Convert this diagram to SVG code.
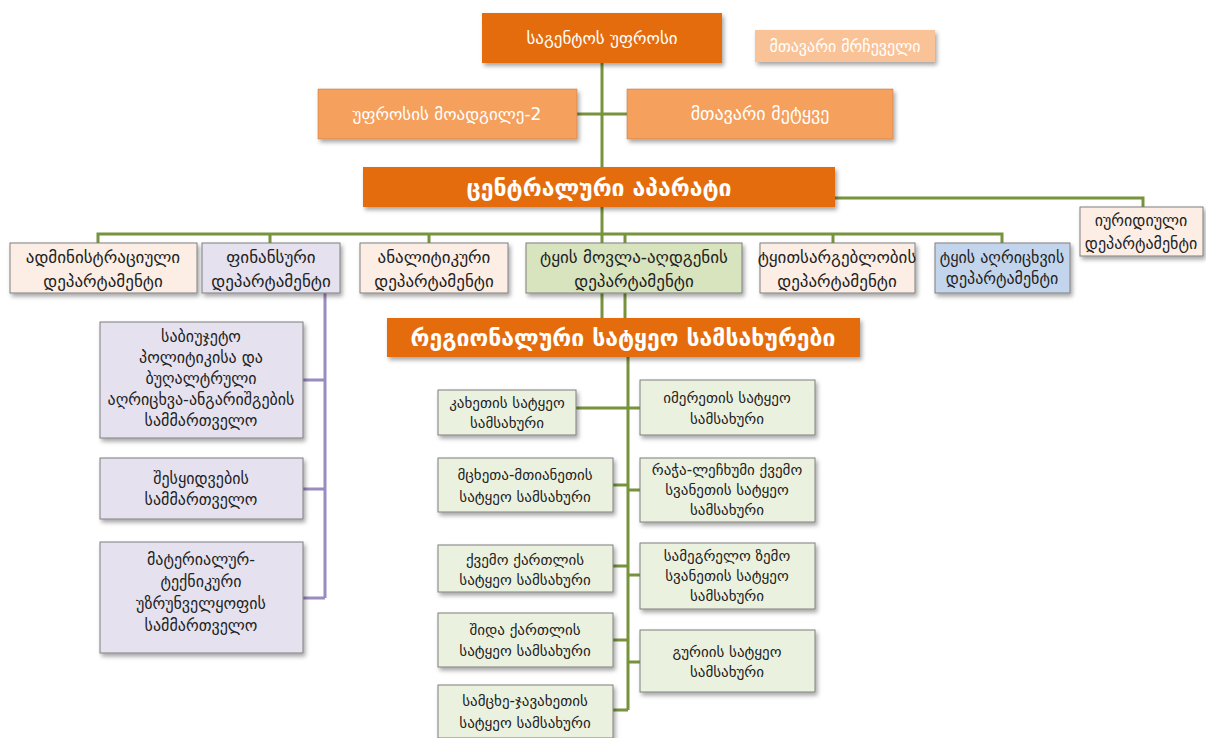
<svg xmlns="http://www.w3.org/2000/svg" width="1206" height="738" viewBox="0 0 1206 738">
<defs>
<filter id="sh" x="-10%" y="-10%" width="130%" height="140%">
<feDropShadow dx="2" dy="3" stdDeviation="2" flood-color="#000" flood-opacity="0.35"/>
</filter>
<style>
.t{font-family:"DejaVu Sans","Noto Sans",sans-serif;text-anchor:middle;}
.w{fill:#fff;}
.k{fill:#222;font-size:15px;}
.d{font-size:17px;}
.p{font-size:16px;}
.dark{fill:#E46C0A;filter:url(#sh);}
.mid{fill:#F5A05C;stroke:#C07040;stroke-width:0.5;filter:url(#sh);}
.light{fill:#FAC397;filter:url(#sh);}
.peach{fill:#FDEEE5;stroke:#7F7F7F;stroke-width:1;filter:url(#sh);}
.lav{fill:#E5E1EE;stroke:#7F7F7F;stroke-width:1;filter:url(#sh);}
.grn{fill:#D8E4BE;stroke:#7F7F7F;stroke-width:1;filter:url(#sh);}
.blu{fill:#C3D5EC;stroke:#7F7F7F;stroke-width:1;filter:url(#sh);}
.lg{fill:#EBF1DF;stroke:#7F7F7F;stroke-width:1;filter:url(#sh);}
.gl{fill:none;stroke:#77933C;stroke-width:3;}
.pl{fill:none;stroke:#9A8CC0;stroke-width:3;}
</style>
</defs>
<rect width="1206" height="738" fill="#fff"/>
<g id="connectors">
<path class="gl" d="M602 62V318"/>
<path class="gl" d="M577 114H627"/>
<path class="gl" d="M98 243V234H1002V243"/>
<path class="gl" d="M270 234V243M429 234V243M625 234V243M833 234V243"/>
<path class="gl" d="M835 198H1143V207"/>
<path class="gl" d="M625 293V318"/>
<path class="gl" d="M628 357V710"/>
<path class="gl" d="M576 408H640"/>
<path class="gl" d="M613 485H628M628 490H640M613 566H628M628 575H640M613 640H628M628 662H640M613 710H628"/>
<path class="pl" d="M325 293V598M303 380H325M303 489H325M303 598H325"/>
</g>
<g id="n_chief"><rect class="dark" x="482" y="13" width="240" height="50"/><text class="t w" x="602" y="44" font-size="17">საგენტოს უფროსი</text></g>
<g id="n_advisor"><rect class="light" x="755" y="30" width="180" height="32"/><text class="t w" x="845" y="52" font-size="16">მთავარი მრჩეველი</text></g>
<g id="n_deputy"><rect class="mid" x="318" y="89" width="259" height="50"/><text class="t w" x="447" y="120" font-size="17">უფროსის მოადგილე-2</text></g>
<g id="n_forester"><rect class="mid" x="627" y="89" width="266" height="50"/><text class="t w" x="760" y="120" font-size="18">მთავარი მეტყვე</text></g>
<g id="n_central"><rect class="dark" x="363" y="167" width="472" height="40"/><text class="t w" x="599" y="196" font-size="23" font-weight="bold">ცენტრალური აპარატი</text></g>
<g id="n_admin"><rect class="peach" x="10" y="243" width="187" height="50"/><text class="t k d" x="103" y="263">ადმინისტრაციული</text><text class="t k d" x="103" y="287">დეპარტამენტი</text></g>
<g id="n_fin"><rect class="lav" x="202" y="243" width="138" height="50"/><text class="t k d" x="271" y="263">ფინანსური</text><text class="t k d" x="271" y="287">დეპარტამენტი</text></g>
<g id="n_anal"><rect class="peach" x="360" y="243" width="148" height="50"/><text class="t k d" x="434" y="263">ანალიტიკური</text><text class="t k d" x="434" y="287">დეპარტამენტი</text></g>
<g id="n_care"><rect class="grn" x="526" y="243" width="216" height="50"/><text class="t k d" x="634" y="263">ტყის მოვლა-აღდგენის</text><text class="t k d" x="634" y="287">დეპარტამენტი</text></g>
<g id="n_use"><rect class="peach" x="760" y="243" width="155" height="50"/><text class="t k d" x="837" y="263">ტყითსარგებლობის</text><text class="t k d" x="837" y="287">დეპარტამენტი</text></g>
<g id="n_count"><rect class="blu" x="935" y="243" width="135" height="50"/><text class="t k p" x="1002" y="263">ტყის აღრიცხვის</text><text class="t k p" x="1002" y="284">დეპარტამენტი</text></g>
<g id="n_legal"><rect class="peach" x="1080" y="207" width="123" height="49"/><text class="t k p" x="1141" y="226">იურიდიული</text><text class="t k p" x="1141" y="249">დეპარტამენტი</text></g>
<g id="n_budget"><rect class="lav" x="100" y="322" width="203" height="116"/><text class="t k p" x="201" y="342">საბიუჯეტო</text><text class="t k p" x="201" y="363">პოლიტიკისა და</text><text class="t k p" x="201" y="384">ბუღალტრული</text><text class="t k p" x="201" y="405">აღრიცხვა-ანგარიშგების</text><text class="t k p" x="201" y="426">სამმართველო</text></g>
<g id="n_purch"><rect class="lav" x="100" y="458" width="203" height="61"/><text class="t k p" x="201" y="484">შესყიდვების</text><text class="t k p" x="201" y="505">სამმართველო</text></g>
<g id="n_mat"><rect class="lav" x="100" y="542" width="203" height="111"/><text class="t k p" x="201" y="565">მატერიალურ-</text><text class="t k p" x="201" y="587">ტექნიკური</text><text class="t k p" x="201" y="609">უზრუნველყოფის</text><text class="t k p" x="201" y="631">სამმართველო</text></g>
<g id="n_regional"><rect class="dark" x="387" y="318" width="473" height="39"/><text class="t w" x="623" y="346" font-size="23" font-weight="bold">რეგიონალური სატყეო სამსახურები</text></g>
<g id="n_kakheti"><rect class="lg" x="438" y="390" width="138" height="45"/><text class="t k" x="507" y="408">კახეთის სატყეო</text><text class="t k" x="507" y="428">სამსახური</text></g>
<g id="n_imereti"><rect class="lg" x="640" y="380" width="175" height="55"/><text class="t k" x="727" y="403">იმერეთის სატყეო</text><text class="t k" x="727" y="424">სამსახური</text></g>
<g id="n_mtskheta"><rect class="lg" x="438" y="458" width="175" height="54"/><text class="t k" x="525" y="480">მცხეთა-მთიანეთის</text><text class="t k" x="525" y="502">სატყეო სამსახური</text></g>
<g id="n_racha"><rect class="lg" x="640" y="458" width="175" height="64"/><text class="t k" x="727" y="475">რაჭა-ლეჩხუმი ქვემო</text><text class="t k" x="727" y="495">სვანეთის სატყეო</text><text class="t k" x="727" y="515">სამსახური</text></g>
<g id="n_kvemo"><rect class="lg" x="438" y="545" width="175" height="47"/><text class="t k" x="525" y="565">ქვემო ქართლის</text><text class="t k" x="525" y="585">სატყეო სამსახური</text></g>
<g id="n_samegrelo"><rect class="lg" x="640" y="543" width="175" height="66"/><text class="t k" x="727" y="561">სამეგრელო ზემო</text><text class="t k" x="727" y="581">სვანეთის სატყეო</text><text class="t k" x="727" y="601">სამსახური</text></g>
<g id="n_shida"><rect class="lg" x="438" y="613" width="175" height="54"/><text class="t k" x="525" y="635">შიდა ქართლის</text><text class="t k" x="525" y="656">სატყეო სამსახური</text></g>
<g id="n_guria"><rect class="lg" x="640" y="630" width="175" height="62"/><text class="t k" x="727" y="657">გურიის სატყეო</text><text class="t k" x="727" y="677">სამსახური</text></g>
<g id="n_samtskhe"><rect class="lg" x="438" y="685" width="175" height="53"/><text class="t k" x="525" y="706">სამცხე-ჯავახეთის</text><text class="t k" x="525" y="728">სატყეო სამსახური</text></g>
</svg>
